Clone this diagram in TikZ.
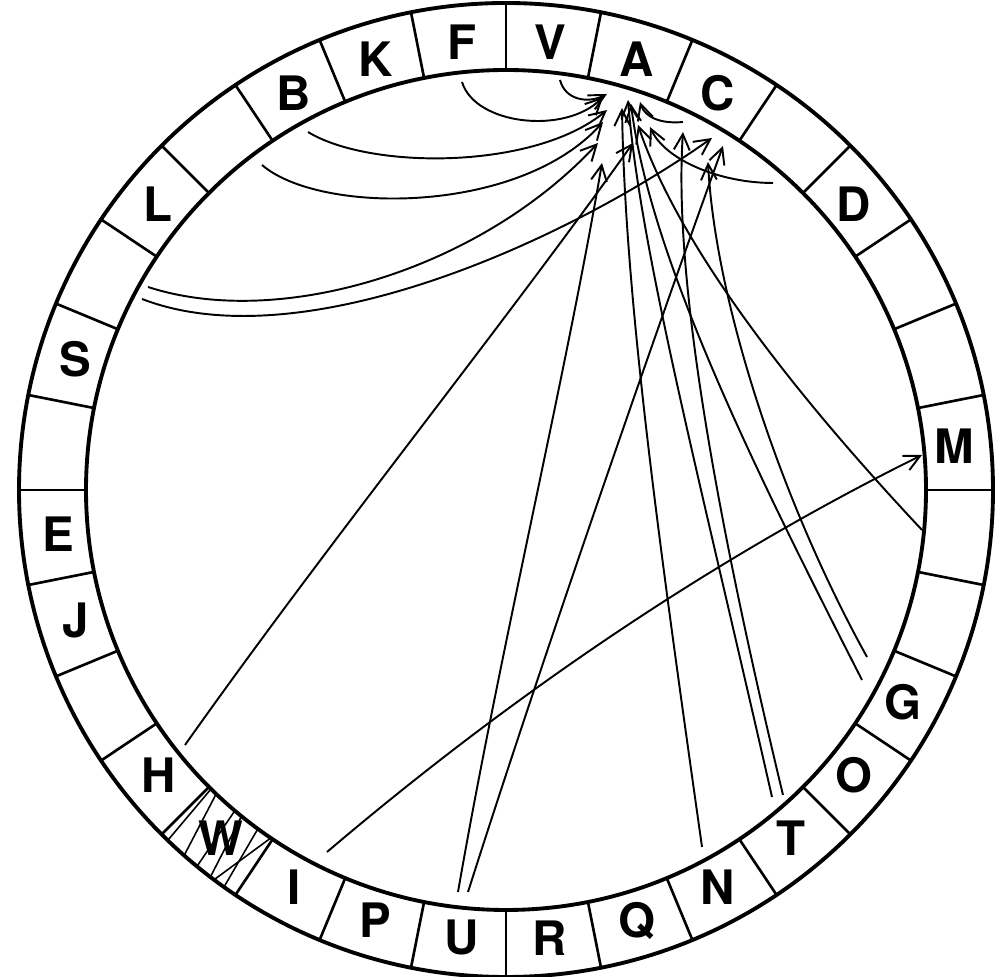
\documentclass[tikz,border=0pt]{standalone}
\usepackage{fontspec}
\setmainfont{TeX Gyre Heros}
\usetikzlibrary{arrows.meta, calc}
\tikzset{
  ring/.style={line width=1.1pt},
  divider/.style={line width=0.75pt},
  link/.style={line width=0.55pt, -{Straight Barb[length=4.5pt,width=4.5pt]}},
  hatch/.style={line width=0.45pt},
  letter/.style={font=\fontsize{13.5}{13.5}\selectfont\bfseries, inner sep=0pt}
}
\begin{document}
\begin{tikzpicture}[x=0.01cm, y=-0.01cm]
  \useasboundingbox (0,0) rectangle (1000,977);
  \coordinate (ctr) at (506,490);

  % Ring of 32 sectors
  \draw[ring] (ctr) circle[radius=487];
  \draw[ring] (ctr) circle[radius=420];
  \foreach \k in {0,...,31}
    \draw[divider] ($(ctr)+(\k*11.25:420)$) -- ($(ctr)+(\k*11.25:487)$);

  % Hatching of sector W
  \foreach \ao/\ai in {226.0/225.4, 228.6/226.4, 230.6/229.8, 232.6/231.0, 234.6/233.8, 233.2/235.9}
    \draw[hatch] ($(ctr)+(-\ao:486)$) -- ($(ctr)+(-\ai:421)$);

  % Letters
  \foreach \name/\idx in {M/0, D/3, C/5, A/6, V/7, F/8, K/9, B/10, L/12, S/14,
      E/16, J/17, H/19, W/20, I/21, P/22, U/23, R/24, Q/25, N/26, T/27, O/28, G/29}
    \node[letter] (sec\name) at ($(ctr)+({-(\idx+0.5)*11.25}:450)$) {\name};

  % Start points on the inner circle
  \coordinate (fromF) at (462,82);
  \coordinate (fromV) at (560,80);
  \coordinate (fromB) at (308,132);
  \coordinate (fromLB) at (262,165);
  \coordinate (fromLS) at (148,287);
  \coordinate (fromLSb) at (142,299);
  \coordinate (fromH) at (185,745);
  \coordinate (fromI) at (327,852);
  \coordinate (fromUa) at (458,892);
  \coordinate (fromUb) at (468,892);
  \coordinate (fromN) at (702,847);
  \coordinate (fromTa) at (772,797);
  \coordinate (fromTb) at (783,795);
  \coordinate (fromGa) at (862,680);
  \coordinate (fromGb) at (867,657);
  \coordinate (fromMb) at (922,530);
  \coordinate (fromD) at (773,183);
  \coordinate (fromC) at (683,122);

  % Arrow tips near A
  \coordinate (toA1) at (603,97);
  \coordinate (toA2) at (607,94);
  \coordinate (toA3) at (607,110);
  \coordinate (toA4) at (603,122);
  \coordinate (toA5) at (598,143);
  \coordinate (toA6) at (602,163);
  \coordinate (toA7) at (622,108);
  \coordinate (toA8) at (628,100);
  \coordinate (toA9) at (633,143);
  \coordinate (toA10) at (638,125);
  \coordinate (toA11) at (640,102);
  \coordinate (toA12) at (650,127);
  \coordinate (toA13) at (631,104);
  % Arrow tips near C and M
  \coordinate (toC1) at (683,132);
  \coordinate (toC2) at (712,138);
  \coordinate (toC3) at (723,146);
  \coordinate (toC4) at (708,162);
  \coordinate (toM) at (922,455);

  % Links
  \draw[link] (fromF) .. controls (475,125) and (565,135) .. (toA1);
  \draw[link] (fromV) .. controls (565,100) and (588,104) .. (toA2);
  \draw[link] (fromB) .. controls (370,170) and (535,170) .. (toA3);
  \draw[link] (fromLB) .. controls (320,215) and (520,215) .. (toA4);
  \draw[link] (fromLS) .. controls (280,330) and (480,270) .. (toA5);
  \draw[link] (fromLSb) .. controls (300,360) and (560,245) .. (toC2);
  \draw[link] (fromH) .. controls (330,540) and (500,330) .. (toA9);
  \draw[link] (fromUa) .. controls (500,650) and (565,380) .. (toA6);
  \draw[link] (fromUb) .. controls (545,650) and (660,320) .. (toC3);
  \draw[link] (fromI) .. controls (520,688) and (720,555) .. (toM);
  \draw[link] (fromN) .. controls (660,550) and (625,300) .. (toA7);
  \draw[link] (fromTa) .. controls (700,480) and (640,250) .. (toA8);
  \draw[link] (fromTb) .. controls (700,450) and (675,250) .. (toC1);
  \draw[link] (fromGa) .. controls (760,480) and (650,260) .. (toA13);
  \draw[link] (fromGb) .. controls (780,500) and (715,300) .. (toC4);
  \draw[link] (fromMb) .. controls (800,400) and (680,250) .. (toA10);
  \draw[link] (fromD) .. controls (720,183) and (665,160) .. (toA12);
  \draw[link] (fromC) .. controls (662,124) and (645,118) .. (toA11);
\end{tikzpicture}
\end{document}
